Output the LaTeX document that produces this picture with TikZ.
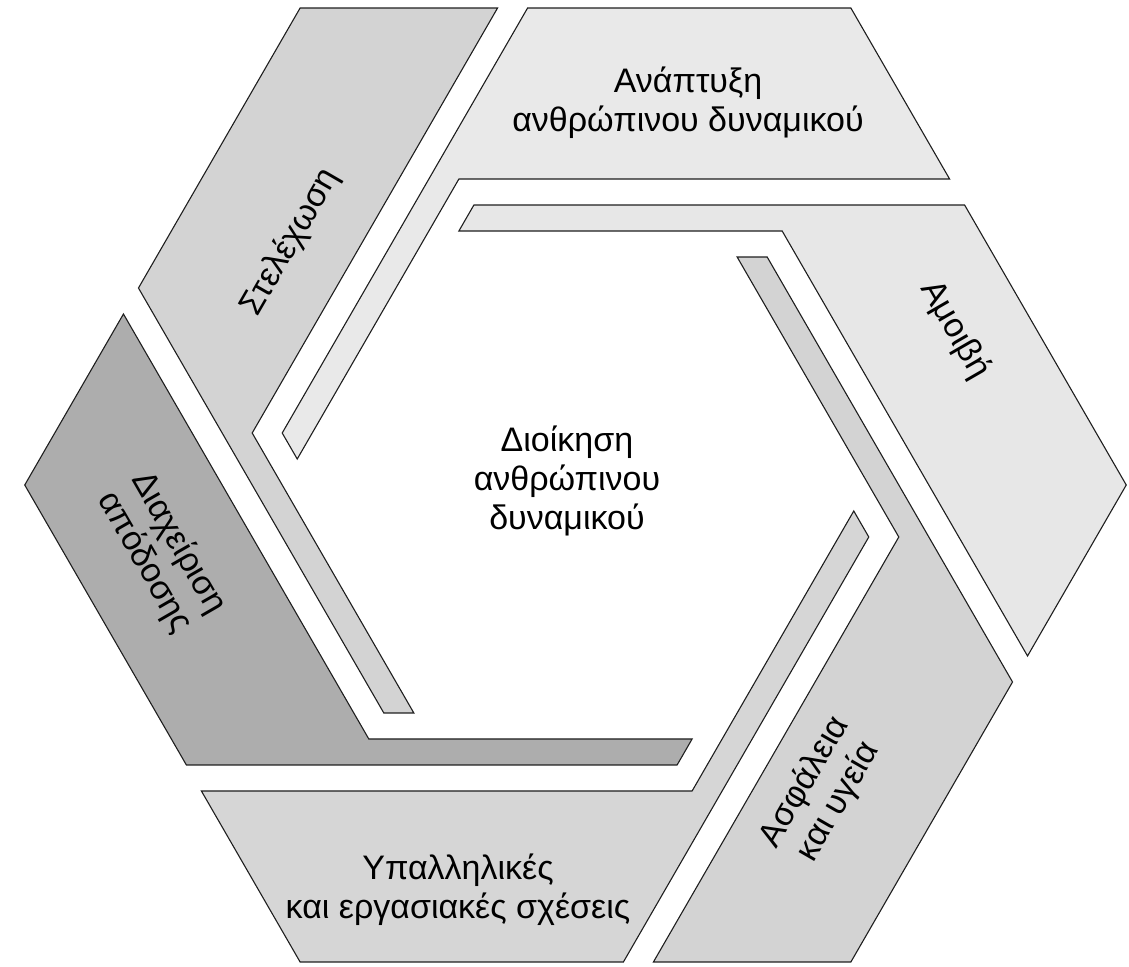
\documentclass[tikz,border=0pt]{standalone}
\usepackage{fontspec}
\setmainfont{Liberation Sans}
\usepackage{xcolor}
\usepackage{tikz}
\usetikzlibrary{calc}
\definecolor{hrPale}{HTML}{E9E9E9}
\definecolor{hrPaleB}{HTML}{E7E7E7}
\definecolor{hrMid}{HTML}{D3D3D3}
\definecolor{hrMidB}{HTML}{D6D6D6}
\definecolor{hrDark}{HTML}{ADADAD}
\definecolor{hrLine}{HTML}{1E1E1E}
% corner of two hexagon lines: normal angle a at distance da, normal angle b at distance db
\newcommand{\hexpt}[4]{({((#2)*sin(#3)-(#4)*sin(#1))/sin((#3)-(#1))},{((#4)*cos(#1)-(#2)*cos(#3))/sin((#3)-(#1))})}
\tikzset{
  hexband/.style={draw=hrLine, line width=1.1pt, line join=miter},
  hexlabel/.style={align=center, inner sep=0pt, font=\fontsize{34}{39}\selectfont},
}

\begin{document}
\begin{tikzpicture}[x=1pt, y=1pt]
\useasboundingbox (-575.5,-481) rectangle (553.5,485);
% six bands, each bent round the next corner as a thin strip
\foreach \t/\c in {90/hrPale, 150/hrMid, 210/hrDark, 270/hrMidB, 330/hrMid, 30/hrPaleB}{
  \filldraw[hexband, fill=\c]
    \hexpt{\t-60}{477}{\t}{477} -- \hexpt{\t}{477}{\t+60}{280}
    -- \hexpt{\t+60}{280}{\t+120}{228} -- \hexpt{\t+60}{254}{\t+120}{228}
    -- \hexpt{\t}{306}{\t+60}{254} -- \hexpt{\t-60}{477}{\t}{306} -- cycle;
}
\node[hexlabel] (anaptyxi) at (112.5,382) {Ανάπτυξη\\ανθρώπινου δυναμικού};
\node[hexlabel, rotate=60] (stelexosi) at (-285,243) {Στελέχωση};
\node[hexlabel, rotate=-60] (amoivi) at (379.5,155) {Αμοιβή};
\node[hexlabel, rotate=-60] (apodosi) at (-414,-68) {Διαχείριση\\απόδοσης};
\node[hexlabel] (sxeseis) at (-117.5,-405) {Υπαλληλικές\\και εργασιακές σχέσεις};
\node[hexlabel, rotate=60] (asfaleia) at (246,-307) {Ασφάλεια\\και υγεία};
\node[hexlabel] (dioikisi) at (-8.5,4) {Διοίκηση\\ανθρώπινου\\δυναμικού};
\end{tikzpicture}
\end{document}
